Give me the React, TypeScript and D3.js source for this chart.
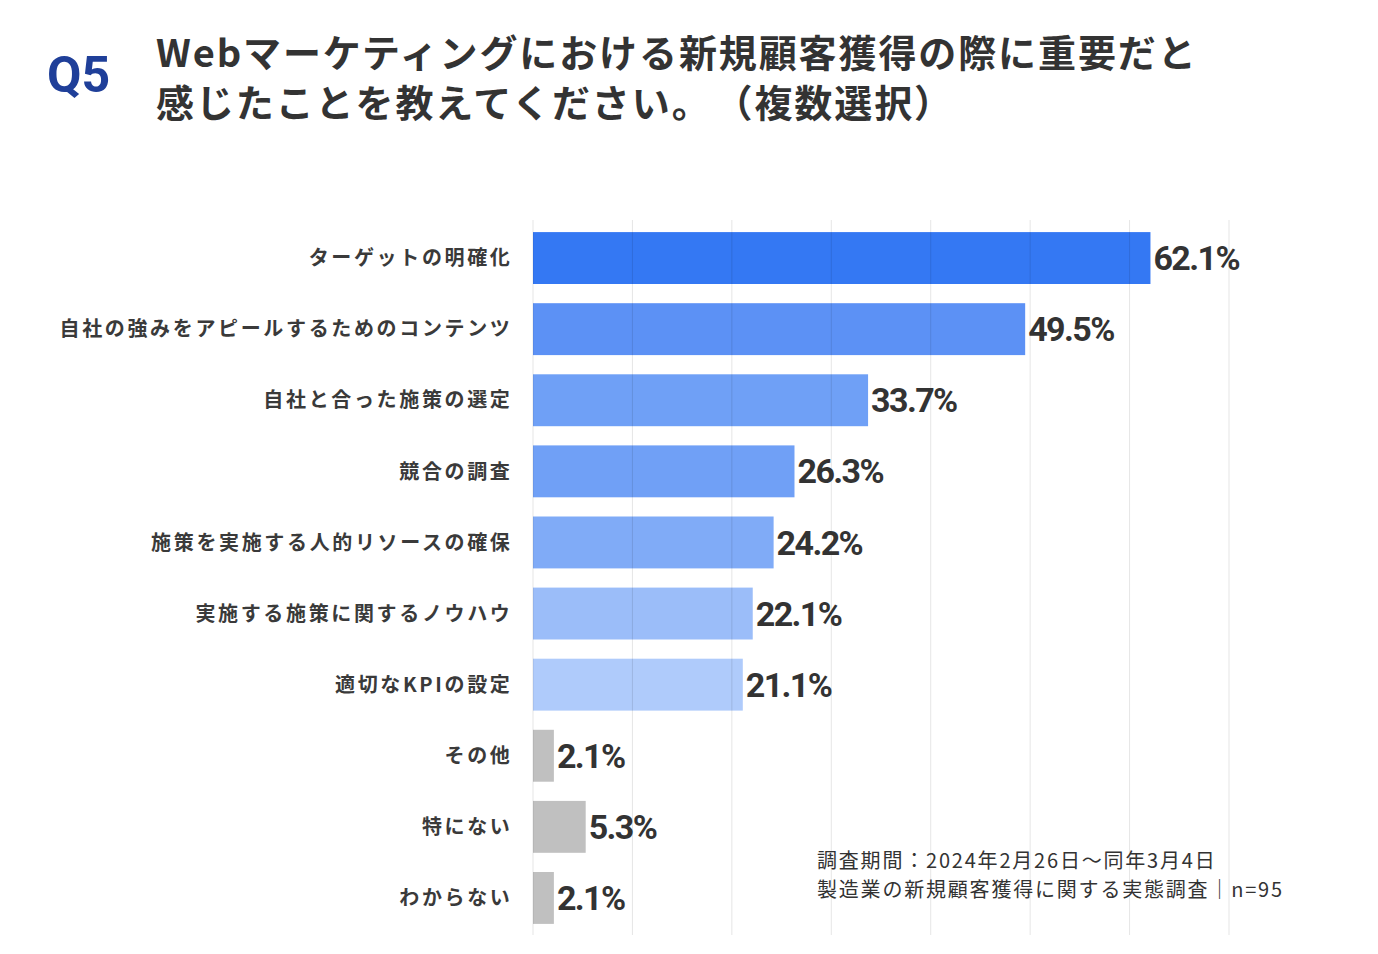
import React from "react";
import * as d3 from "d3";

const categories = [
  "ターゲットの明確化",
  "自社の強みをアピールするためのコンテンツ",
  "自社と合った施策の選定",
  "競合の調査",
  "施策を実施する人的リソースの確保",
  "実施する施策に関するノウハウ",
  "適切なKPIの設定",
  "その他",
  "特にない",
  "わからない",
];
const values = [62.1, 49.5, 33.7, 26.3, 24.2, 22.1, 21.1, 2.1, 5.3, 2.1];
const barColors = [
  "#3478F3",
  "#5C91F5",
  "#6FA0F6",
  "#70A0F6",
  "#80ABF7",
  "#9BBDF9",
  "#AFCBFB",
  "#C0C0C0",
  "#C0C0C0",
  "#C0C0C0",
];
const gridTicks = [0, 10, 20, 30, 40, 50, 60, 70];
const titleLine1 = "Webマーケティングにおける新規顧客獲得の際に重要だと";
const titleLine2a = "感じたことを教えてください。";
const titleLine2b = "（複数選択）";
const noteLines = [
  "調査期間：2024年2月26日～同年3月4日",
  "製造業の新規顧客獲得に関する実態調査｜n=95",
];

const W = 1378;
const H = 954;
const FONT = "'Noto Sans CJK JP', 'Noto Sans', sans-serif";
const NUMFONT = "Roboto, 'Noto Sans', sans-serif";

export default function App() {
  const x = d3.scaleLinear().domain([0, 70]).range([533, 1229]);
  const y = d3
    .scaleBand<string>()
    .domain(categories)
    .range([222.5, 933.5])
    .paddingInner(0.27)
    .paddingOuter(0.135);

  return (
    <div style={{ position: "absolute", left: 0, top: 0 }}>
      <svg width={W} height={H} style={{ display: "block", background: "#fff" }}>
        <text
          x={47}
          y={92}
          fontFamily={NUMFONT}
          fontWeight={700}
          fontSize={50}
          fill="#1F3F99"
        >
          Q5
        </text>
        <text
          x={156}
          y={67}
          fontFamily={FONT}
          fontWeight={700}
          fontSize={38}
          letterSpacing={1.9}
          fill="#333333"
        >
          {titleLine1}
        </text>
        <text
          x={156}
          y={117}
          fontFamily={FONT}
          fontWeight={700}
          fontSize={38}
          letterSpacing={1.9}
          fill="#333333"
        >
          {titleLine2a}
          <tspan dx={22}>{titleLine2b}</tspan>
        </text>

        {values.map((v, i) => (
          <rect
            key={i}
            x={x(0)}
            y={y(categories[i])}
            width={x(v) - x(0)}
            height={y.bandwidth()}
            fill={barColors[i]}
          />
        ))}

        {gridTicks.map((t) => (
          <line
            key={t}
            x1={x(t)}
            x2={x(t)}
            y1={220}
            y2={935}
            stroke="#000"
            strokeOpacity={0.1}
            strokeWidth={1}
          />
        ))}

        {categories.map((c, i) => (
          <text
            key={c}
            x={512.5}
            y={(y(c) as number) + y.bandwidth() / 2}
            dy="0.36em"
            textAnchor="end"
            fontFamily={FONT}
            fontWeight={700}
            fontSize={20}
            letterSpacing={2.65}
            fill="#3a3a3a"
          >
            {c}
          </text>
        ))}

        {values.map((v, i) => (
          <text
            key={i}
            x={x(v) + 3}
            y={(y(categories[i]) as number) + y.bandwidth() / 2}
            dy="0.355em"
            fontFamily={NUMFONT}
            fontWeight={700}
            fontSize={34}
            fill="#333333"
            letterSpacing={-1.6}
          >
            {v.toFixed(1)}%
          </text>
        ))}

        {noteLines.map((t, i) => (
          <text
            key={i}
            x={817}
            y={868 + i * 29}
            fontFamily={FONT}
            fontSize={20}
            letterSpacing={1.8}
            fill="#333333"
          >
            {t}
          </text>
        ))}
      </svg>
    </div>
  );
}
